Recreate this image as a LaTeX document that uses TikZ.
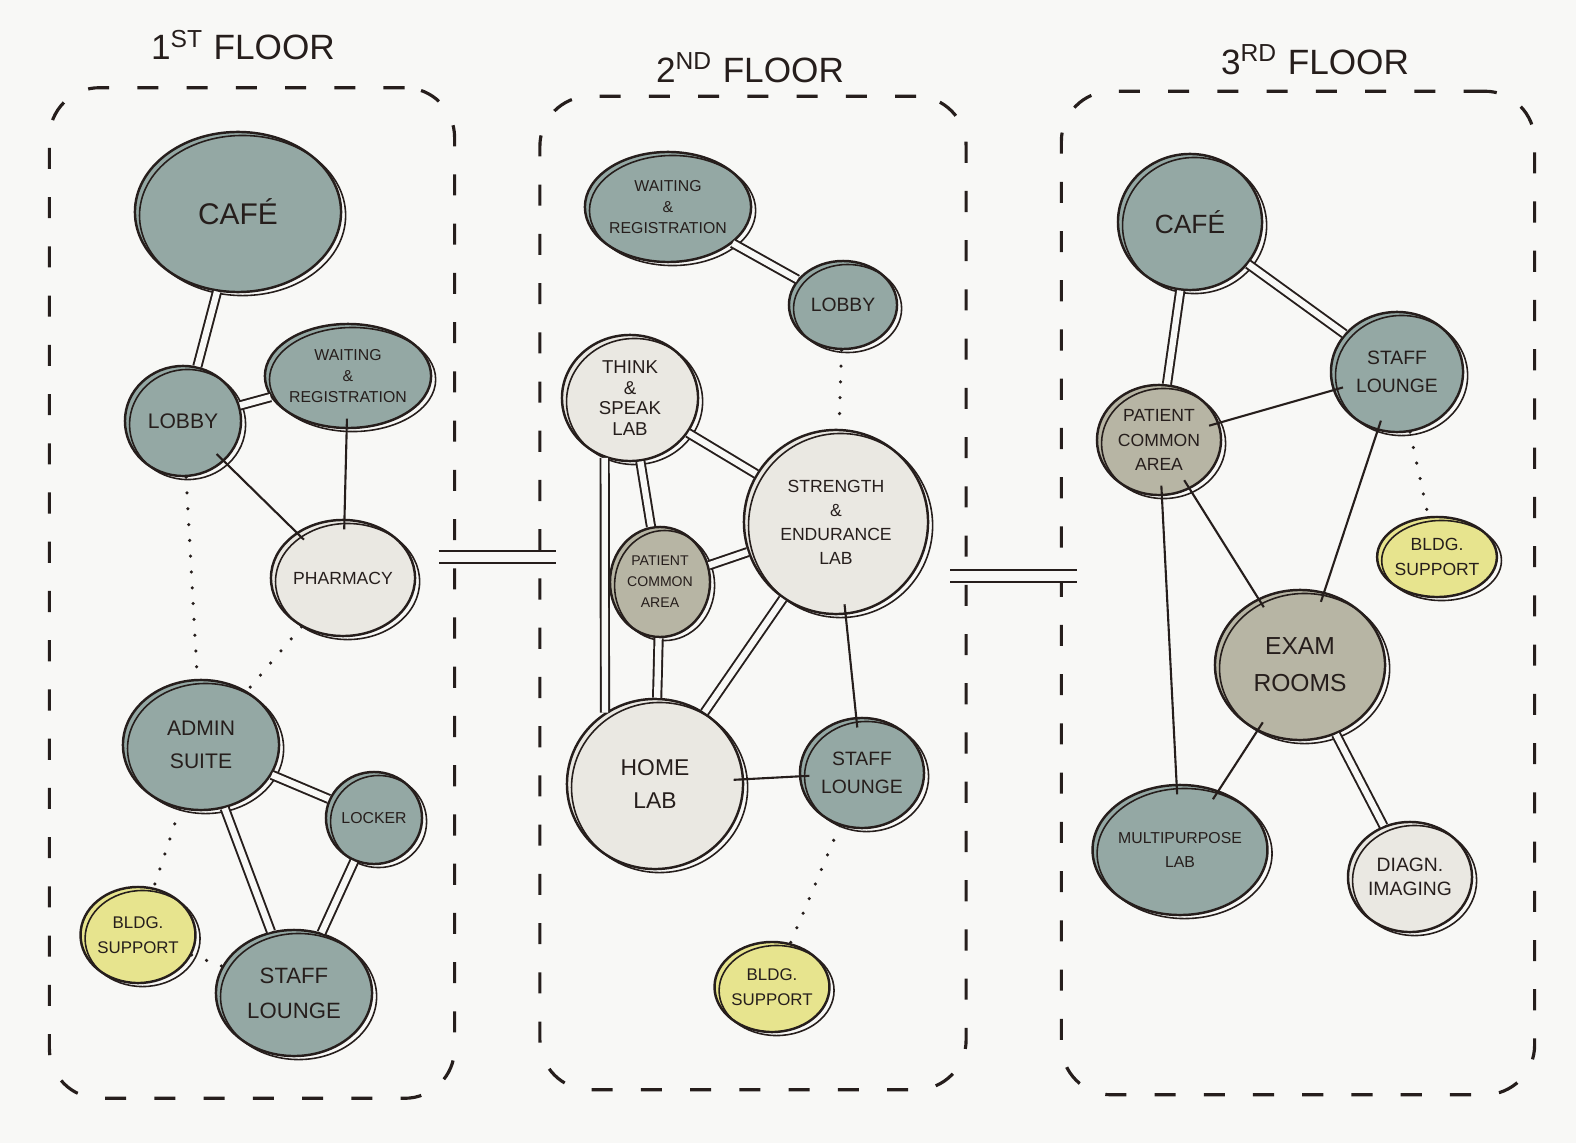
\documentclass[tikz,border=0pt]{standalone}
\usepackage{fontspec}
\setmainfont{Liberation Sans}
\usetikzlibrary{shapes.geometric}
\definecolor{paper}{RGB}{248,248,246}
\definecolor{ink}{RGB}{38,30,28}
\definecolor{sage}{RGB}{148,168,164}
\definecolor{stone}{RGB}{183,181,164}
\definecolor{chalk}{RGB}{234,232,226}
\definecolor{lemon}{RGB}{231,228,142}
\def\sz#1#2{\fontsize{#1}{#2}\selectfont}% font size
\tikzset{ rm/.style = { ellipse % room
, draw = ink
, line width = 0.7pt
, inner sep = 0pt
, align = center
, text = ink
, postaction = {draw = ink, line width = 0.45pt, transform canvas = {shift = {(1.3pt,-1pt)}}}
}
, sg/.style = { rm, fill = sage } % teal room
, st/.style = { rm, fill = stone } % common area
, ch/.style = { rm, fill = chalk } % lab
, lm/.style = { rm, fill = lemon } % support
, dbl/.style = { draw = ink % main link
, line width = 0.55pt
, double = paper
, double distance = 1.8pt
}
, sgl/.style = { draw = ink % minor link
, line width = 0.6pt
, shorten <= -3pt
, shorten >= -3pt
}
, dt/.style = { draw = ink % service link
, line width = 1pt
, line cap = round
, dash pattern = on 0pt off 4.5pt
}
, flr/.style = { rectangle % floor
, draw = ink
, line width = 0.9pt
, dash pattern = on 6pt off 8pt
, rounded corners = 0.5cm
}
, lvl/.style = { draw = ink % stair
, line width = 0.6pt
, double = paper
, double distance = 2.8pt
, shorten <= -5pt
, shorten >= -5pt
}
, ttl/.style = { font = \sz{10}{12}, text = ink }
}

\begin{document}
\begin{tikzpicture}[x=0.01cm, y=-0.01cm]
\fill[paper] (0,0) rectangle (1576,1143);

% floors
\node[flr, minimum width=4.05cm, minimum height=10.10cm] (f1) at (252,593) {};
\node[flr, minimum width=4.26cm, minimum height=9.93cm] (f2) at (753,593) {};
\node[flr, minimum width=4.73cm, minimum height=10.03cm] (f3) at (1298,593) {};
\node[ttl] (t1) at (243,45) {1\textsuperscript{ST} FLOOR};
\node[ttl] (t2) at (750,68) {2\textsuperscript{ND} FLOOR};
\node[ttl] (t3) at (1315,60) {3\textsuperscript{RD} FLOOR};
\draw[lvl] (f1.east |- 0,557) -- (f2.west |- 0,557);
\draw[lvl] (f2.east |- 0,576) -- (f3.west |- 0,576);

% 1st floor
\node[sg, minimum width=2.06cm, minimum height=1.60cm, font=\sz{8.5}{10}] (cafe1) at (238,212) {CAFÉ};
\node[sg, minimum width=1.16cm, minimum height=1.10cm, font=\sz{6}{8}] (lob1) at (183,421) {LOBBY};
\node[sg, minimum width=1.26cm, minimum height=1.04cm, font=\sz{4.5}{6}] (wait1) at (348,376) {WAITING\\\&\\REGISTRATION};
\node[ch, minimum width=1.44cm, minimum height=1.16cm, font=\sz{5}{7}] (pharm1) at (343,578) {PHARMACY};
\node[sg, minimum width=1.56cm, minimum height=1.30cm, font=\sz{6}{9.5}] (admin1) at (201,745) {ADMIN\\SUITE};
\node[sg, minimum width=0.96cm, minimum height=0.92cm, font=\sz{4.5}{6}] (lock1) at (374,818) {LOCKER};
\node[lm, minimum width=1.00cm, minimum height=0.96cm, font=\sz{4.8}{7}] (bldg1) at (138,935) {BLDG.\\SUPPORT};
\node[sg, minimum width=1.56cm, minimum height=1.26cm, font=\sz{6.3}{10}] (staff1) at (294,993) {STAFF\\LOUNGE};

% 2nd floor
\node[sg, minimum width=1.30cm, minimum height=1.10cm, font=\sz{4.5}{6}] (wait2) at (668,207) {WAITING\\\&\\REGISTRATION};
\node[sg, minimum width=1.08cm, minimum height=0.88cm, font=\sz{5.5}{7}] (lob2) at (843,305) {LOBBY};
\node[ch, minimum width=1.36cm, minimum height=1.26cm, font=\sz{5.3}{5.8}] (think2) at (630,398) {THINK\\\&\\SPEAK\\LAB};
\node[ch, minimum width=1.84cm, minimum height=1.84cm, font=\sz{5}{6.8}] (str2) at (836,522) {STRENGTH\\\&\\ENDURANCE\\LAB};
\node[st, minimum width=1.00cm, minimum height=1.10cm, font=\sz{4}{6}] (pat2) at (660,582) {PATIENT\\COMMON\\AREA};
\node[ch, minimum width=1.76cm, minimum height=1.70cm, font=\sz{6.5}{9.5}] (home2) at (655,784) {HOME\\LAB};
\node[sg, minimum width=1.24cm, minimum height=1.10cm, font=\sz{5.5}{8}] (staff2) at (862,773) {STAFF\\LOUNGE};
\node[lm, minimum width=1.00cm, minimum height=0.90cm, font=\sz{4.8}{7}] (bldg2) at (772,987) {BLDG.\\SUPPORT};

% 3rd floor
\node[sg, minimum width=1.44cm, minimum height=1.36cm, font=\sz{7.5}{9}] (cafe3) at (1190,222) {CAFÉ};
\node[sg, minimum width=1.32cm, minimum height=1.20cm, font=\sz{5.5}{8}] (staff3) at (1397,372) {STAFF\\LOUNGE};
\node[st, minimum width=1.24cm, minimum height=1.10cm, font=\sz{5}{7}] (pat3) at (1159,440) {PATIENT\\COMMON\\AREA};
\node[lm, minimum width=0.96cm, minimum height=0.80cm, font=\sz{5}{7}] (bldg3) at (1437,557) {BLDG.\\SUPPORT};
\node[st, minimum width=1.70cm, minimum height=1.50cm, font=\sz{7}{10.5}] (exam3) at (1300,665) {EXAM\\ROOMS};
\node[sg, minimum width=1.44cm, minimum height=1.30cm, font=\sz{4.5}{7}] (multi3) at (1180,850) {MULTIPURPOSE\\LAB};
\node[ch, minimum width=1.24cm, minimum height=1.10cm, font=\sz{5.5}{7}] (diag3) at (1410,877) {DIAGN.\\IMAGING};

% links
\foreach \a/\b in {cafe1/lob1, lob1/wait1, admin1/lock1, admin1/staff1, lock1/staff1,
                   wait2/lob2, think2/str2, think2/pat2, pat2/str2, pat2/home2, str2/home2,
                   cafe3/pat3, cafe3/staff3, exam3/diag3}
    \draw[dbl] (\a) -- (\b);
\draw[dbl] (think2.247) -- (home2.125);
\foreach \a/\b in {lob1/pharm1, wait1/pharm1, str2/staff2, home2/staff2,
                   pat3/staff3, pat3/exam3, staff3/exam3, pat3/multi3, exam3/multi3}
    \draw[sgl] (\a) -- (\b);
\foreach \a/\b in {lob1/admin1, pharm1/admin1, admin1/bldg1, bldg1/staff1,
                   lob2/str2, staff2/bldg2, staff3/bldg3}
    \draw[dt] (\a) -- (\b);
\end{tikzpicture}
\end{document}
